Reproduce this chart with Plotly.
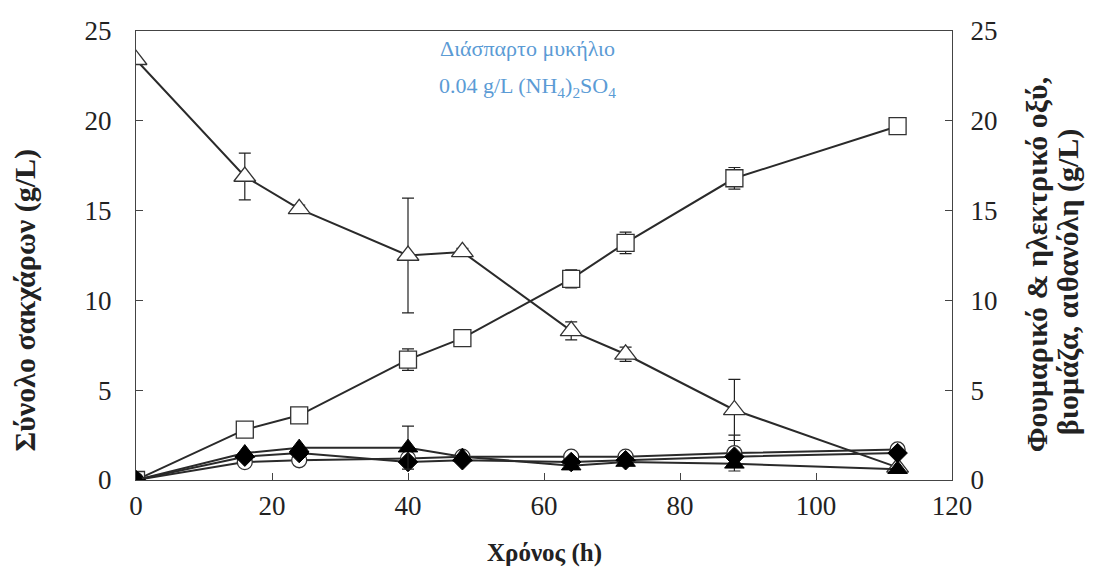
import plotly.graph_objects as go

# Sampling times (h)
time_h = [0, 16, 24, 40, 48, 64, 72, 88, 112]

# Total sugars (g/L), left axis
sugars = [23.4, 16.9, 15.1, 12.5, 12.7, 8.3, 7.0, 3.9, 0.7]
sugars_err = [0, 1.3, 0.2, 3.2, 0.2, 0.5, 0.4, 1.7, 0]

# Fumaric acid (g/L), right axis
fumaric = [0, 2.8, 3.6, 6.7, 7.9, 11.2, 13.2, 16.8, 19.7]
fumaric_err = [0, 0.2, 0.2, 0.6, 0.2, 0.5, 0.6, 0.6, 0.4]

# Minor products (g/L), right axis
succinic = [0, 1.5, 1.8, 1.8, 1.3, 0.8, 1.0, 0.9, 0.6]
succinic_err = [0, 0, 0, 1.2, 0, 0, 0, 0, 0]
biomass = [0, 1.3, 1.5, 1.0, 1.1, 1.0, 1.1, 1.3, 1.5]
ethanol = [0, 1.0, 1.1, 1.2, 1.3, 1.3, 1.3, 1.5, 1.7]
ethanol_err = [0, 0, 0, 0, 0, 0, 0, 1.0, 0]

x_ticks = [0, 20, 40, 60, 80, 100, 120]
y_ticks = [0, 5, 10, 15, 20, 25]

FONT = "Liberation Serif, Times New Roman, serif"
INK = "#222222"
LINE = "#2a2a2a"


def err(vals):
    return dict(type="data", array=vals, visible=True, color="#222222",
                thickness=1.2, width=6)


fig = go.Figure()

fig.add_trace(go.Scatter(
    x=time_h, y=fumaric, yaxis="y2", mode="lines+markers",
    line=dict(color=LINE, width=2),
    marker=dict(symbol="square", size=17, color="white",
                line=dict(color="#333333", width=1.3)),
    error_y=err(fumaric_err), name="Φουμαρικό οξύ"))

fig.add_trace(go.Scatter(
    x=time_h, y=sugars, mode="lines+markers",
    line=dict(color=LINE, width=2),
    marker=dict(symbol="triangle-up", size=19, color="white",
                line=dict(color="#333333", width=1.3)),
    error_y=err(sugars_err), name="Σύνολο σακχάρων"))

fig.add_trace(go.Scatter(
    x=time_h, y=ethanol, yaxis="y2", mode="lines+markers",
    line=dict(color=LINE, width=2),
    marker=dict(symbol="circle", size=15, color="white",
                line=dict(color="#333333", width=1.3)),
    error_y=err(ethanol_err), name="Αιθανόλη"))

fig.add_trace(go.Scatter(
    x=time_h, y=biomass, yaxis="y2", mode="lines+markers",
    line=dict(color=LINE, width=2),
    marker=dict(symbol="diamond", size=15, color="black",
                line=dict(color="black", width=1)),
    name="Βιομάζα"))

fig.add_trace(go.Scatter(
    x=time_h, y=succinic, yaxis="y2", mode="lines+markers",
    line=dict(color=LINE, width=2),
    marker=dict(symbol="triangle-up", size=17, color="black",
                line=dict(color="black", width=1)),
    error_y=err(succinic_err), name="Ηλεκτρικό οξύ"))

axis_common = dict(
    showgrid=False, zeroline=False, showline=True, linecolor="#444444",
    linewidth=1.3, ticks="inside", ticklen=7, tickcolor="#444444",
    tickfont=dict(family=FONT, size=27, color=INK),
)

fig.update_layout(
    width=1094, height=571,
    margin=dict(l=136, r=142, t=31, b=91),
    paper_bgcolor="white", plot_bgcolor="white",
    showlegend=False,
    font=dict(family=FONT, color=INK),
    xaxis=dict(range=[0, 120], tickvals=x_ticks, mirror=True,
               ticklabelstandoff=1, **axis_common),
    yaxis=dict(range=[0, 25], tickvals=y_ticks, ticklabelstandoff=18,
               **axis_common),
    yaxis2=dict(range=[0, 25], tickvals=y_ticks, overlaying="y",
                side="right", ticklabelstandoff=12, **axis_common),
)

title_font = dict(family=FONT, size=30, color=INK)

# Axis titles
fig.add_annotation(x=0.5, y=-0.162, xref="paper", yref="paper",
                   text="<b>Χρόνος (h)</b>", showarrow=False,
                   font=dict(family=FONT, size=25, color=INK),
                   xanchor="center", yanchor="middle")
fig.add_annotation(x=-0.136, y=0.40, xref="paper", yref="paper",
                   text="<b>Σύνολο σακχάρων (g/L)</b>", showarrow=False,
                   textangle=-90, font=title_font,
                   xanchor="center", yanchor="middle")
fig.add_annotation(x=1.104, y=0.48, xref="paper", yref="paper",
                   text="<b>Φουμαρικό & ηλεκτρικό οξύ,</b>", showarrow=False,
                   textangle=-90, font=title_font,
                   xanchor="center", yanchor="middle")
fig.add_annotation(x=1.143, y=0.44, xref="paper", yref="paper",
                   text="<b>βιομάζα, αιθανόλη (g/L)</b>", showarrow=False,
                   textangle=-90, font=title_font,
                   xanchor="center", yanchor="middle")

# Culture condition note
note_font = dict(family=FONT, size=22, color="#5B9BD5")
fig.add_annotation(x=57.5, y=24.05, xref="x", yref="y",
                   text="Διάσπαρτο μυκήλιο", showarrow=False,
                   font=note_font, xanchor="center", yanchor="middle")
fig.add_annotation(x=57.5, y=21.9, xref="x", yref="y",
                   text="0.04 g/L (NH<sub>4</sub>)<sub>2</sub>SO<sub>4</sub>",
                   showarrow=False, font=note_font,
                   xanchor="center", yanchor="middle")

fig.write_html("out.html")
